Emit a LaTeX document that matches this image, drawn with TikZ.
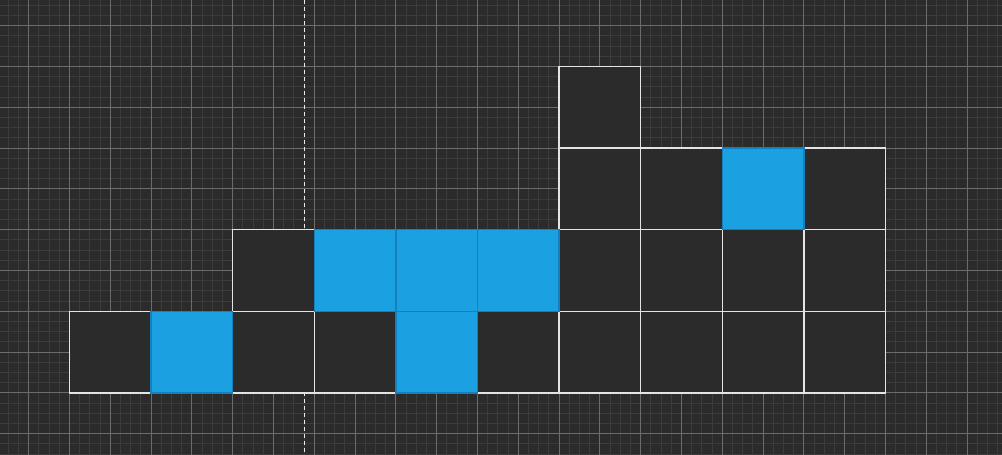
\documentclass[tikz,border=0pt]{standalone}
\definecolor{bg}{HTML}{2B2B2B}
\definecolor{minorc}{HTML}{3C3C3C}
\definecolor{majorc}{HTML}{6C6C6C}
\definecolor{bluef}{HTML}{1BA1E2}
\definecolor{blued}{HTML}{1580BF}
\definecolor{edgec}{HTML}{E4E4E4}
\begin{document}
\begin{tikzpicture}[x=1pt,y=-1pt,
  cell/.style={draw=edgec, fill=bg, line width=1.4pt, minimum size=81.6pt, inner sep=0pt, outer sep=0pt, anchor=north west},
  bluecell/.style={cell, fill=bluef, draw=blued},
  minorline/.style={draw=minorc, line width=1pt},
  majorline/.style={draw=majorc, line width=1pt},
  guide/.style={draw=white!85!gray, line width=1pt, dash pattern=on 4pt off 3pt}]
\fill[bg] (0,0) rectangle (1002,455);
\useasboundingbox (0,0) rectangle (1002,455);
% minor grid
\foreach \i in {0,...,98} \draw[minorline] ({8.3+10.2*\i},0) -- ++(0,455);
\foreach \j in {0,...,44} \draw[minorline] (0,{5.3+10.2*\j}) -- ++(1002,0);
% major grid
\foreach \i in {0,...,24} \draw[majorline] ({28.7+40.8*\i},0) -- ++(0,455);
\foreach \j in {0,...,11} \draw[majorline] (0,{25.7+40.8*\j}) -- ++(1002,0);
% dashed guide
\coordinate (gtop) at (304.5,0);
\coordinate (gbot) at (304.5,455);
\draw[guide] (gtop) -- (gbot);
% dark cells
\foreach \r/\c in {3/0,3/2,3/3,3/5,3/6,3/7,3/8,3/9,2/2,2/6,2/7,2/8,2/9,1/6,1/7,1/9,0/6}
  \node[cell] (c\r\c) at ({69.5+81.6*\c},{66.5+81.6*\r}) {};
% blue cells
\foreach \r/\c in {3/1,3/4,2/3,2/4,2/5,1/8}
  \node[bluecell] (c\r\c) at ({69.5+81.6*\c},{66.5+81.6*\r}) {};
\end{tikzpicture}
\end{document}
